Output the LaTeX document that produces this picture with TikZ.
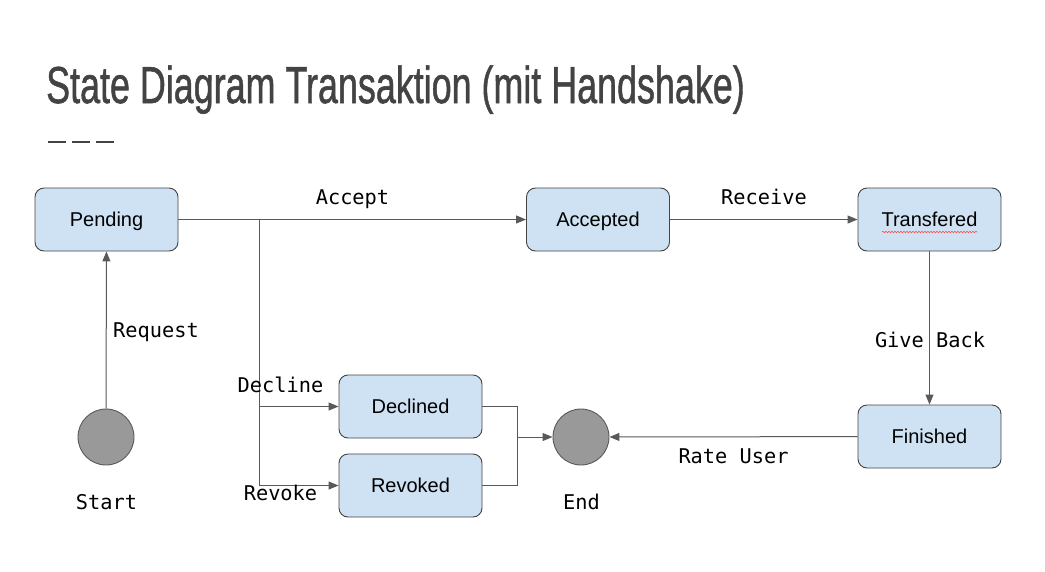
\documentclass[tikz,border=0pt]{standalone}
\usepackage{fontspec}
\setmainfont{Liberation Sans}
\newfontfamily\monofont{DejaVu Sans Mono}
\newfontfamily\titlefont[FakeBold=1.2]{Liberation Sans}
\usetikzlibrary{arrows.meta,decorations.pathmorphing}
\definecolor{boxfill}{HTML}{CFE2F3}
\definecolor{boxdraw}{HTML}{434343}
\definecolor{linecol}{HTML}{595959}
\definecolor{circfill}{HTML}{999999}
\definecolor{titlecol}{HTML}{434343}
\tikzset{
  statebox/.style={draw=boxdraw, fill=boxfill, rounded corners=9pt, line width=0.9pt,
    minimum width=143pt, minimum height=63pt, inner sep=0pt,
    text height=14.4pt, text depth=0pt,
    font=\fontsize{20}{24}\selectfont},
  endpoint/.style={circle, draw=linecol, fill=circfill, line width=0.9pt,
    minimum size=56pt, inner sep=0pt},
  conn/.style={draw=linecol, line width=1pt, -{Triangle[length=10pt,width=8pt]}},
  plain/.style={draw=linecol, line width=1pt},
  lbl/.style={anchor=base, inner sep=0pt, font=\monofont\fontsize{20.3}{23}\selectfont}
}
\begin{document}
\begin{tikzpicture}[x=1pt,y=-1pt]
\useasboundingbox (0,0) rectangle (1045,571);
% title
\node[anchor=base west, inner sep=0pt, text=titlecol] (title) at (46,103)
  {\scalebox{0.69}[1]{\titlefont\fontsize{52}{60}\selectfont State Diagram Transaktion (mit Handshake)}};
\foreach \i in {0,1,2}{
  \draw[titlecol, line width=2pt] (48+\i*24,142) -- (66+\i*24,142);
}
% states
\node[statebox] (pending) at (106.5,219.5) {Pending};
\node[statebox] (accepted) at (598,219.5) {Accepted};
\node[statebox] (transfered) at (929.5,219.5) {Transfered};
\node[statebox] (finished) at (929.5,436.5) {Finished};
\node[statebox] (declined) at (410.5,406.5) {Declined};
\node[statebox] (revoked) at (410.5,485.5) {Revoked};
\draw[red!70, line width=0.6pt, decorate, decoration={snake, amplitude=0.8pt, segment length=3pt}]
  (882,232) -- (977,232);
\node[endpoint] (start) at (106,437) {};
\node[endpoint] (end) at (581,437) {};
% branch points
\coordinate (split) at (259,219.5);
\coordinate (merge) at (517,437);
% connectors
\draw[conn] (start) -- (pending);
\draw[conn] (pending.east) -- (accepted.west);
\draw[plain] (pending.east) -- (split);
\draw[conn] (split) |- (declined.west);
\draw[conn] (split) |- (revoked.west);
\draw[conn] (accepted) -- (transfered);
\draw[conn] (transfered) -- (finished);
\draw[conn] (finished) -- (end);
\draw[plain] (declined.east) -| (merge);
\draw[plain] (revoked.east) -| (merge);
\draw[conn] (merge) -- (end);
% labels
\node[lbl] (lreq) at (156,337) {Request};
\node[lbl] (lacc) at (352.5,204) {Accept};
\node[lbl] (lrec) at (764,204) {Receive};
\node[lbl] (ldec) at (280.5,392) {Decline};
\node[lbl] (lrev) at (280.5,500) {Revoke};
\node[lbl] (lgive) at (930,347) {Give Back};
\node[lbl] (lrate) at (733.5,463) {Rate User};
\node[lbl] (lstart) at (106.5,509) {Start};
\node[lbl] (lend) at (581.5,509) {End};
\end{tikzpicture}
\end{document}
